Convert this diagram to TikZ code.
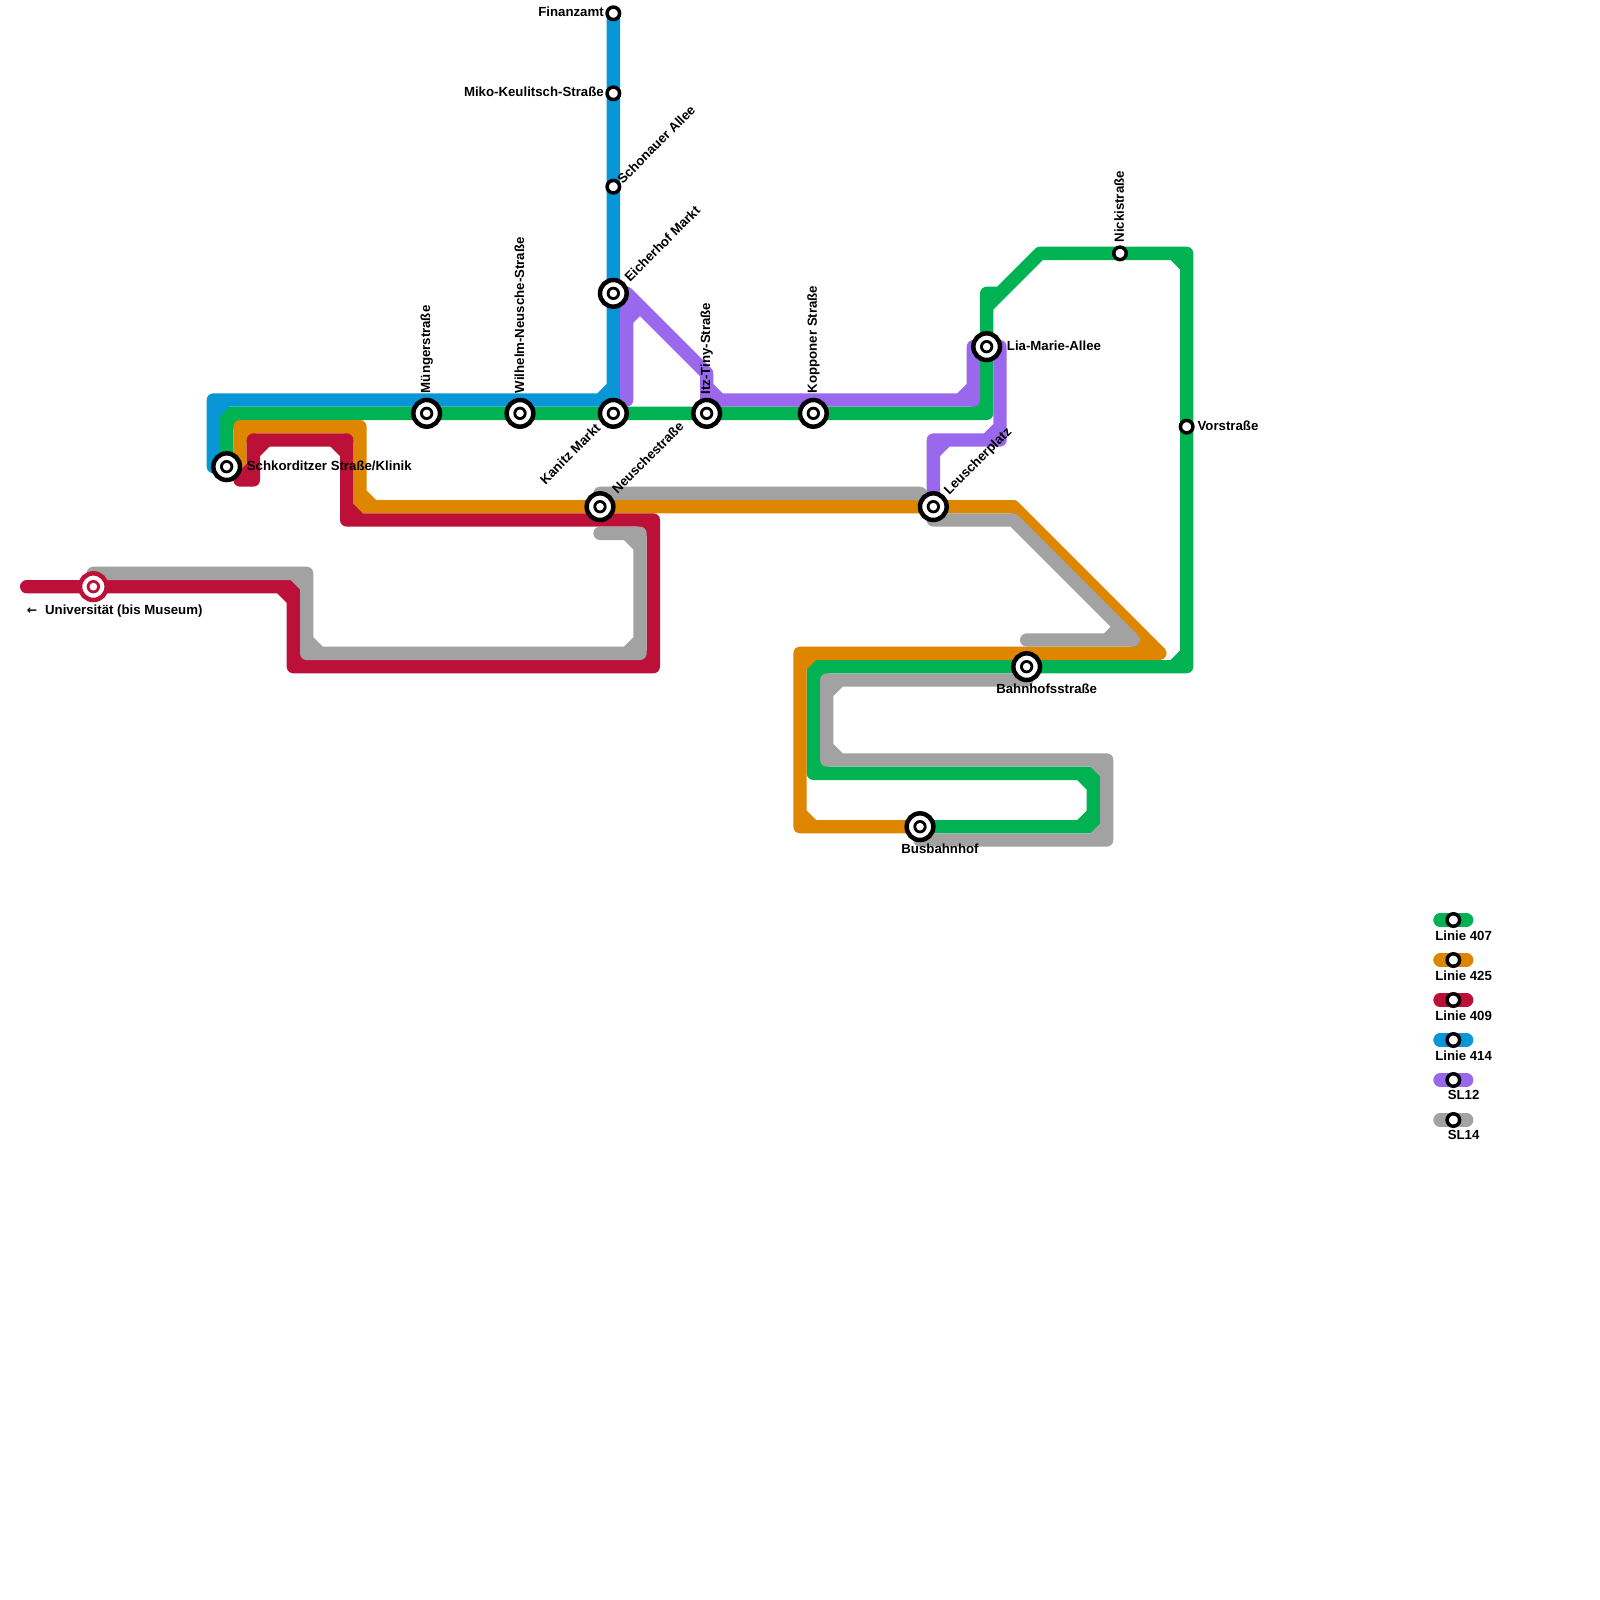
\documentclass[tikz,border=0pt]{standalone}
\usepackage{fontspec}
\setmainfont{Liberation Sans}
\newfontfamily\arrowfont{DejaVu Sans}
\definecolor{LineGreen}{HTML}{00B251}
\definecolor{LineOrange}{HTML}{DF8600}
\definecolor{LineRed}{HTML}{BD1038}
\definecolor{LineBlue}{HTML}{0896D7}
\definecolor{LinePurple}{HTML}{9A68EC}
\definecolor{LineGray}{HTML}{A2A2A2}
\tikzset{
  route/.style={draw=#1,line width=0.4cm,line cap=round,line join=round},
  hub/.style={circle,draw=#1,fill=white,line width=0.135cm,minimum size=0.8cm,inner sep=0pt,
    path picture={
      \fill[#1] (path picture bounding box.center) circle (0.2cm);
      \fill[white] (path picture bounding box.center) circle (0.115cm);}},
  hub/.default=black,
  halt/.style={circle,draw=black,fill=white,line width=0.105cm,minimum size=0.375cm,inner sep=0pt},
  lab/.style={font=\bfseries\fontsize{11.3}{13}\selectfont,inner sep=0pt}
}
\begin{document}
\begin{tikzpicture}[x=0.4cm,y=-0.4cm]
    \useasboundingbox (0,0) rectangle (120,120);

    % lines, same order as in the key
    \draw[route=LineGreen] (17,35) -- (17,31) -- (74,31) -- (74,22) -- (75,22)
      (74,23) -- (78,19) -- (89,19) -- (89,50) -- (61,50) -- (61,58) -- (82,58) -- (82,62) -- (69,62)
      (17,32) -- (18,31) (73,31) -- (74,30) (88,19) -- (89,20) (88,50) -- (89,49)
      (61,51) -- (62,50) (61,57) -- (62,58) (81,58) -- (82,59) (81,62) -- (82,61);
    \draw[route=LineOrange] (18,35) -- (18,32) -- (27,32) -- (27,38) -- (76,38) -- (87,49) -- (60,49) -- (60,62) -- (69,62)
      (18,33) -- (19,32) (26,32) -- (27,33) (27,37) -- (28,38)
      (85,49) -- (86,48) (60,50) -- (61,49) (60,61) -- (61,62);
    \draw[route=LineRed] (18,36) -- (19,36) -- (19,33) -- (26,33) -- (26,39) -- (49,39) -- (49,50) -- (22,50) -- (22,44) -- (2,44)
      (18,36) -- (19,35) (19,34) -- (20,33) (25,33) -- (26,34) (26,38) -- (27,39)
      (48,39) -- (49,40) (48,50) -- (49,49) (22,49) -- (23,50) (21,44) -- (22,45);
    \draw[route=LineBlue] (17,35) -- (16,35) -- (16,30) -- (46,30) -- (46,1)
      (16,31) -- (17,30) (45,30) -- (46,29);
    \draw[route=LinePurple] (47,30) -- (47,22) -- (53,28) -- (53,30) -- (73,30) -- (73,26) -- (75,26) -- (75,33) -- (70,33) -- (70,38)
      (46,22) -- (47,22) (47,24) -- (48,23) (53,29) -- (54,30) (72,30) -- (73,29)
      (74,33) -- (75,32) (70,34) -- (71,33);
    \draw[route=LineGray] (7,43) -- (23,43) -- (23,49) -- (48,49) -- (48,40) -- (45,40)
      (22,43) -- (23,44) (23,48) -- (24,49) (47,49) -- (48,48) (47,40) -- (48,41);
    \draw[route=LineGray] (45,37) -- (69,37) -- (70,38) -- (70,39) -- (76,39) -- (85,48) -- (77,48)
      (83,48) -- (84,47);
    \draw[route=LineGray] (77,51) -- (62,51) -- (62,57) -- (83,57) -- (83,63) -- (69,63)
      (62,52) -- (63,51) (62,56) -- (63,57) (82,57) -- (83,58) (82,63) -- (83,62);

    % stations
    \foreach \nam/\gx/\gy in {schkorditzer/17/35,muenger/32/31,wilhelm/39/31,kanitz/46/31,eicherhof/46/22,itz/53/31,
      kopponer/61/31,lia/74/26,leuscher/70/38,neusche/45/38,bahnhof/77/50,busbahnhof/69/62} {
      \node[hub] (\nam) at (\gx,\gy) {};
    }
    \foreach \nam/\gx/\gy in {finanzamt/46/1,miko/46/7,schonauer/46/14,nicki/84/19,vor/89/32} {
      \node[halt] (\nam) at (\gx,\gy) {};
    }
    \node[hub=LineRed] (uni) at (7,44) {};

    % labels
    \node[lab,anchor=east] (finanzamtlab) at (45.3,0.9) {Finanzamt};
    \node[lab,anchor=east] (mikolab) at (45.3,6.9) {Miko-Keulitsch-Straße};
    \node[lab,anchor=west,rotate=45] (schonauerlab) at (46.45,13.6) {Schonauer Allee};
    \node[lab,anchor=west,rotate=45] (eicherhoflab) at (47,20.95) {Eicherhof Markt};
    \node[lab,anchor=west,rotate=90] (muengerlab) at (32,29.5) {Müngerstraße};
    \node[lab,anchor=west,rotate=90] (wilhelmlab) at (38.95,29.5) {Wilhelm-Neusche-Straße};
    \node[lab,anchor=west,rotate=90] (itzlab) at (53,29.6) {Itz-Tiny-Straße};
    \node[lab,anchor=west,rotate=90] (kopponerlab) at (61,29.5) {Kopponer Straße};
    \node[lab,anchor=west,rotate=90] (nickilab) at (83.93,18.2) {Nickistraße};
    \node[lab,anchor=east,rotate=45] (kanitzlab) at (44.85,31.95) {Kanitz Markt};
    \node[lab,anchor=west,rotate=45] (neuschelab) at (46.05,36.85) {Neuschestraße};
    \node[lab,anchor=west,rotate=45] (leuscherlab) at (71,37) {Leuscherplatz};
    \node[lab,anchor=west] (lialab) at (75.5,25.93) {Lia-Marie-Allee};
    \node[lab,anchor=west] (vorlab) at (89.8,31.93) {Vorstraße};
    \node[lab,anchor=west] (schkorditzerlab) at (18.5,34.93) {Schkorditzer Straße/Klinik};
    \node[lab,anchor=west] (unilab) at (2,45.85) {{\arrowfont\fontsize{10.5}{13}\selectfont ←}\hspace{3.6pt} Universität (bis Museum)};
    \node[lab] (bahnhoflab) at (78.5,51.68) {Bahnhofsstraße};
    \node[lab] (busbahnhoflab) at (70.5,63.68) {Busbahnhof};

    % key
    \foreach \col/\lab/\gy/\nam in {LineGreen/Linie 407/69/keya,LineOrange/Linie 425/72/keyb,LineRed/Linie 409/75/keyc,
      LineBlue/Linie 414/78/keyd,LinePurple/SL12/81/keye,LineGray/SL14/84/keyf} {
      \draw[route=\col] (108,\gy) -- (110,\gy);
      \node[halt] (\nam) at (109,\gy) {};
      \node[lab] (\nam lab) at (109.77,\gy+1.15) {\lab};
    }
\end{tikzpicture}
\end{document}
